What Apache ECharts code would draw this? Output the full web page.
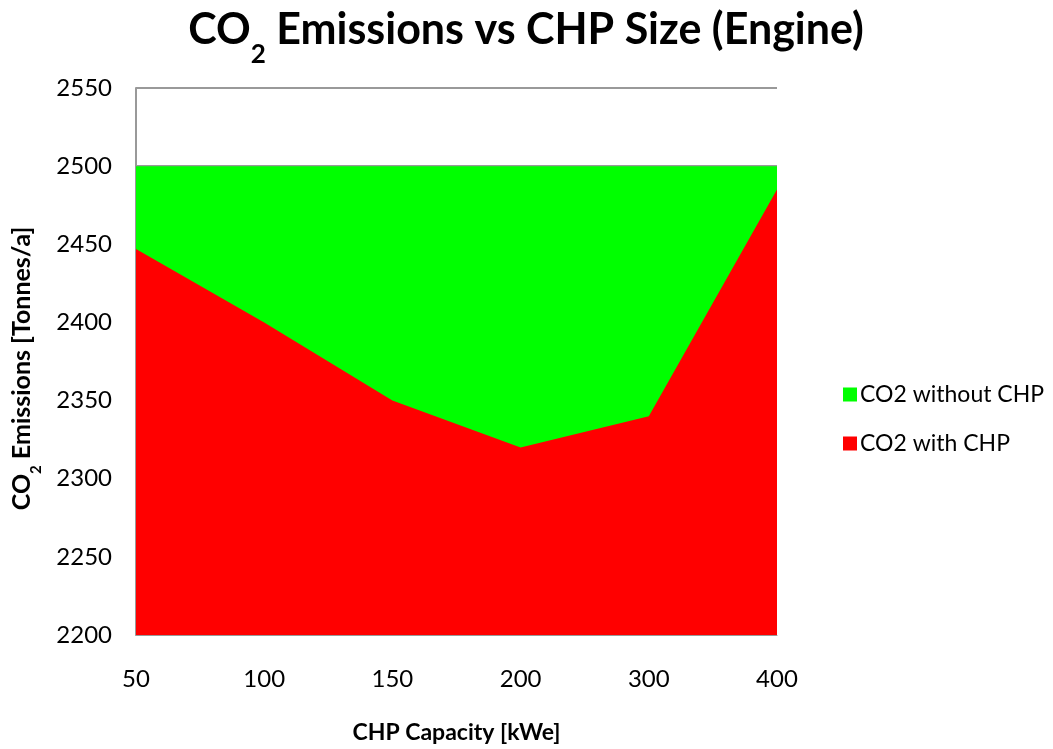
<!DOCTYPE html>
<html>
<head>
<meta charset="utf-8">
<script src="https://cdn.jsdelivr.net/npm/echarts@6/dist/echarts.min.js"></script>
<style>
html,body{margin:0;padding:0;background:#fff;overflow:hidden;}
#chart{width:1053px;height:749px;}
</style>
</head>
<body>
<div id="chart"></div>
<script>
const categories = ['50', '100', '150', '200', '300', '400'];
const co2WithoutChp = [2500, 2500, 2500, 2500, 2500, 2500];
const co2WithChp = [2447, 2400, 2350, 2320, 2340, 2485];
const yTicks = { min: 2200, max: 2550, interval: 50 };

const FONT = 'Lato, "Open Sans", sans-serif';
const chart = echarts.init(document.getElementById('chart'), null, { renderer: 'canvas', width: 1053, height: 749 });

chart.setOption({
  backgroundColor: '#fff',
  animation: false,
  title: {
    text: '{a|CO}{s|2}{a| Emissions vs CHP Size (Engine)}',
    left: 521,
    textAlign: 'center',
    top: 4,
    textStyle: {
      rich: {
        a: { fontFamily: FONT, fontWeight: 'bold', fontSize: 43, color: '#000' },
        s: { fontFamily: FONT, fontWeight: 'bold', fontSize: 26, color: '#000', verticalAlign: 'bottom', padding: [0, 0, -16, 0] }
      }
    }
  },
  legend: {
    orient: 'vertical',
    left: 838,
    top: 378,
    itemWidth: 14,
    itemHeight: 14,
    itemGap: 26,
    icon: 'rect',
    textStyle: { fontFamily: FONT, fontSize: 23, color: '#000', padding: [0, 0, 0, -2] },
    data: ['CO2 without CHP', 'CO2 with CHP']
  },
  grid: { left: 136, width: 641, top: 88, height: 547, outerBoundsMode: 'none', containLabel: false },
  xAxis: {
    type: 'category',
    data: categories,
    boundaryGap: false,
    axisLine: { show: true, lineStyle: { color: '#999', width: 1 } },
    axisTick: { show: false },
    axisLabel: { fontFamily: FONT, fontSize: 24, color: '#000', margin: 32 },
    name: 'CHP Capacity [kWe]',
    nameLocation: 'middle',
    nameGap: 86,
    nameTextStyle: { fontFamily: FONT, fontWeight: 'bold', fontSize: 23, color: '#000' }
  },
  yAxis: {
    type: 'value',
    min: yTicks.min,
    max: yTicks.max,
    interval: yTicks.interval,
    axisLine: { show: true, lineStyle: { color: '#999', width: 2 } },
    axisTick: { show: false },
    splitLine: { show: true, lineStyle: { color: '#999', width: 2 } },
    axisLabel: { fontFamily: FONT, fontSize: 24, color: '#000', margin: 24, formatter: function (v) { return String(v); } },
    name: '{a|CO}{s|2}{a| Emissions [Tonnes/a]}',
    nameLocation: 'middle',
    nameGap: 102,
    nameRotate: 90,
    nameTextStyle: {
      padding: [0, 14, 0, 0],
      rich: {
        a: { fontFamily: FONT, fontWeight: 'bold', fontSize: 25, color: '#000' },
        s: { fontFamily: FONT, fontWeight: 'bold', fontSize: 15, color: '#000', verticalAlign: 'bottom', padding: [0, 0, -10, 0] }
      }
    }
  },
  series: [
    {
      name: 'CO2 without CHP',
      type: 'line',
      data: co2WithoutChp,
      symbol: 'none',
      lineStyle: { width: 0 },
      itemStyle: { color: '#00ff00' },
      areaStyle: { color: '#00ff00', opacity: 1, origin: 'start' },
      z: 2
    },
    {
      name: 'CO2 with CHP',
      type: 'line',
      data: co2WithChp,
      symbol: 'none',
      lineStyle: { width: 0 },
      itemStyle: { color: '#ff0000' },
      areaStyle: { color: '#ff0000', opacity: 1, origin: 'start' },
      z: 3
    }
  ]
});
</script>
</body>
</html>
